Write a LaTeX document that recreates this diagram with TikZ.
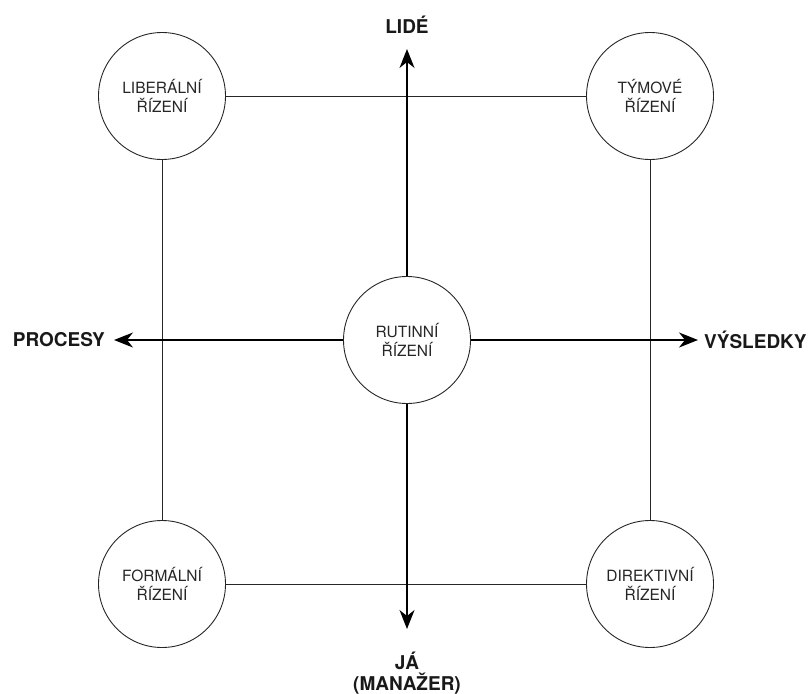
\documentclass[tikz,border=0pt]{standalone}
\usepackage{fontspec}
\setmainfont{TeX Gyre Heros}
\usetikzlibrary{arrows.meta}
\begin{document}
\begin{tikzpicture}[x=1pt,y=-1pt,
  mgmt/.style={circle,draw=black!85,line width=0.9pt,minimum size=127pt,inner sep=0pt,align=center,font=\fontsize{15.5}{19.5}\selectfont,text=black!85},
  edge/.style={draw=black!85,line width=0.9pt},
  axis/.style={draw=black,line width=1.6pt,-{Stealth[length=19pt,width=15pt,inset=6pt]}},
  lbl/.style={font=\fontsize{19}{21}\selectfont\bfseries,text=black!90,align=center,inner sep=0pt}]
\useasboundingbox (0,0) rectangle (810,693);
\node[mgmt] (lib) at (162,96) {LIBERÁLNÍ\\ŘÍZENÍ};
\node[mgmt] (tym) at (650,96) {TÝMOVÉ\\ŘÍZENÍ};
\node[mgmt] (rut) at (407,340) {RUTINNÍ\\ŘÍZENÍ};
\node[mgmt] (for) at (162,584) {FORMÁLNÍ\\ŘÍZENÍ};
\node[mgmt] (dir) at (650,584) {DIREKTIVNÍ\\ŘÍZENÍ};
\draw[edge] (lib) -- (tym);
\draw[edge] (lib) -- (for);
\draw[edge] (tym) -- (dir);
\draw[edge] (for) -- (dir);
\coordinate (up) at (407,49);
\coordinate (dn) at (407,629);
\coordinate (lf) at (114,340);
\coordinate (rt) at (698,340);
\draw[axis] (rut) -- (up);
\draw[axis] (rut) -- (dn);
\draw[axis] (rut) -- (lf);
\draw[axis] (rut) -- (rt);
\node[lbl] (lide) at (407,25) {LIDÉ};
\node[lbl] (ja) at (407,673) {JÁ\\(MANAŽER)};
\node[lbl,anchor=east] (proc) at (105,340) {PROCESY};
\node[lbl,anchor=west] (vys) at (704,340) {VÝSLEDKY};
\end{tikzpicture}
\end{document}
